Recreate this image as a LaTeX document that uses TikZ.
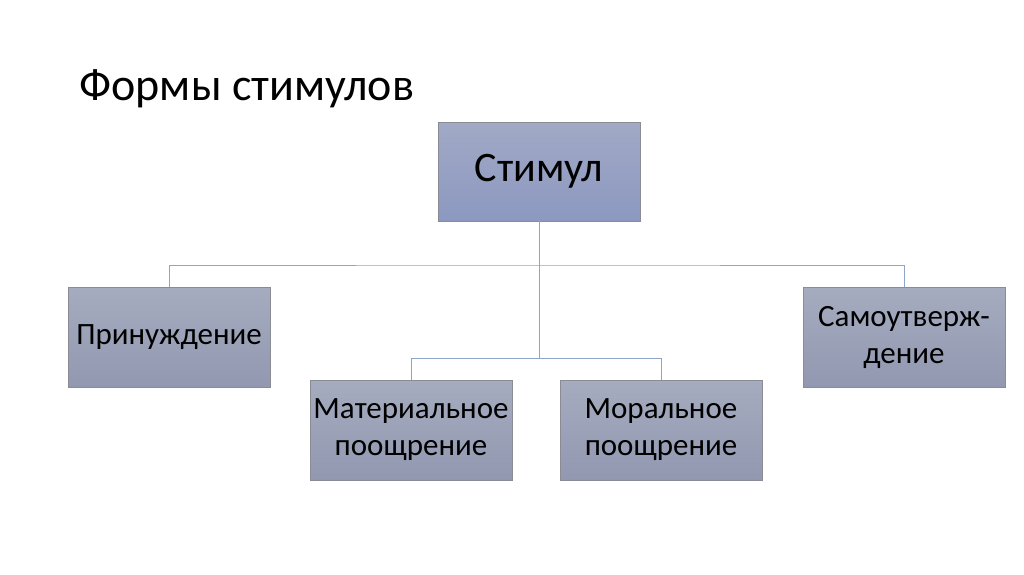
\documentclass[tikz,border=0pt]{standalone}
\usepackage{fontspec}
\setmainfont{Carlito}
\begin{document}
\begin{tikzpicture}[x=1pt,y=-1pt,
  boxtop/.style={top color=topc,bottom color=botc,draw=bordc,line width=0.8pt,
    minimum width=202pt,minimum height=100pt,inner sep=2pt,align=center,
    font=\fontsize{31}{37}\selectfont},
  conn/.style={draw=linec,line width=1pt}]
\definecolor{topc}{HTML}{A6ACBF}
\definecolor{botc}{HTML}{9198B0}
\definecolor{toproot}{HTML}{A1A9C5}
\definecolor{botroot}{HTML}{8C98C0}
\definecolor{bordc}{HTML}{8A8C94}
\definecolor{linec}{HTML}{8FA4CA}
\useasboundingbox (0,0) rectangle (1024,574);
\fill[white] (0,0) rectangle (1024,574);
\node[anchor=base west,font=\fontsize{46}{52}\selectfont] (title) at (76,100) {Формы стимулов};
\node[boxtop,top color=toproot,bottom color=botroot,minimum height=99pt,font=\fontsize{42}{48}\selectfont] (root) at (539,171.5) {Стимул};
\node[boxtop] (a) at (169,337) {Принуждение};
\node[boxtop] (b) at (411,430) {Материальное\\поощрение};
\node[boxtop] (c) at (661,430) {Моральное\\поощрение};
\node[boxtop] (d) at (904,337) {Самоутверж-\\дение};
\coordinate (j1) at (539,265);
\coordinate (j2) at (539,358);
\draw[conn] (root.south) -- (j2);
\draw[conn] (a.north) |- (j1) -| (d.north);
\draw[conn] (b.north) |- (j2) -| (c.north);
\end{tikzpicture}
\end{document}
